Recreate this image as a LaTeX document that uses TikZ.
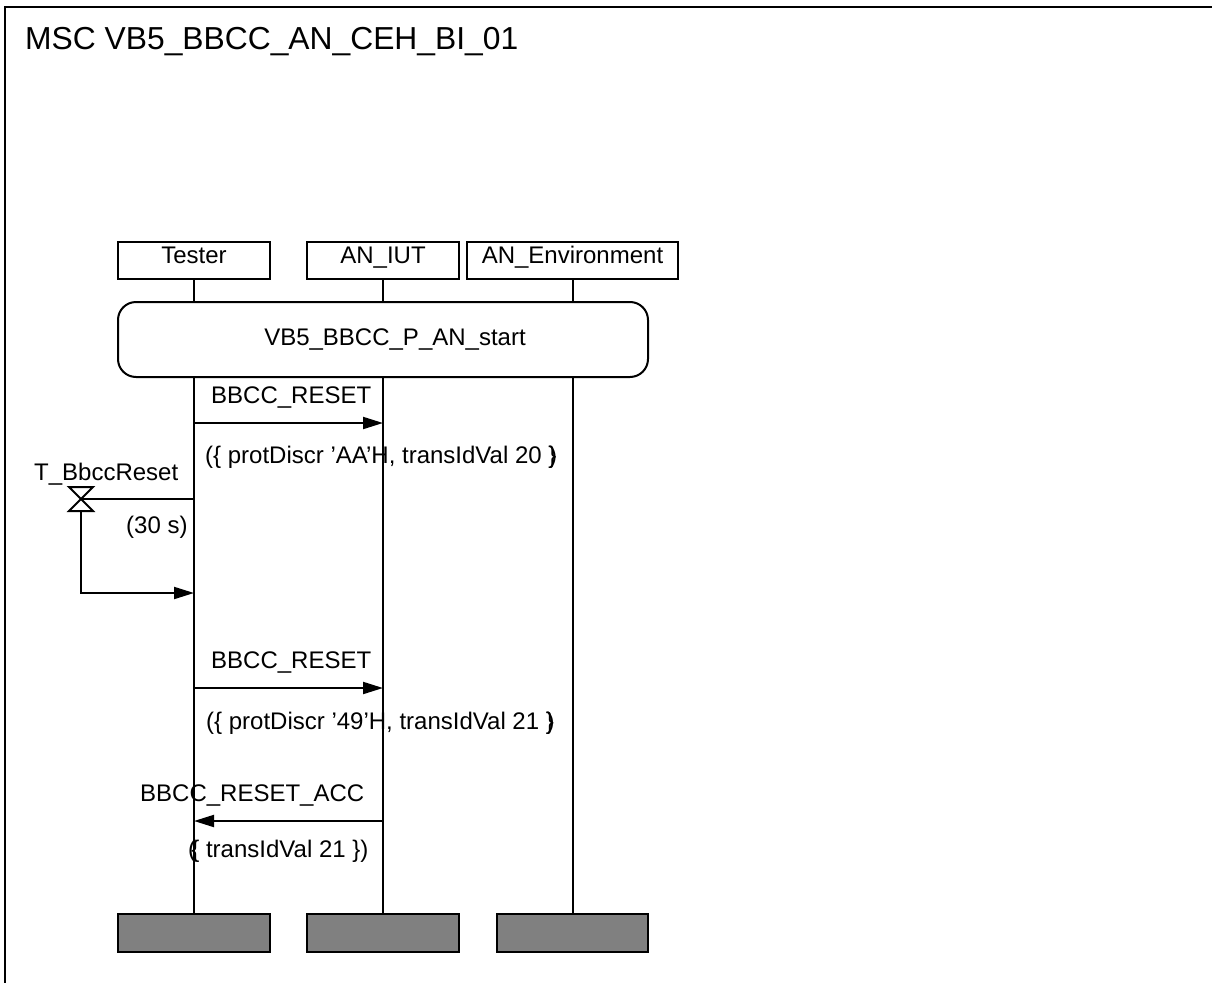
\documentclass[tikz,border=0pt]{standalone}
\usepackage{fontspec}
\setmainfont{Liberation Sans}
\usetikzlibrary{arrows.meta}
\begin{document}
\begin{tikzpicture}[x=1pt,y=-1pt,
  lbl/.style={font=\fontsize{24}{28}\selectfont, inner sep=0pt},
  hdr/.style={draw, line width=2pt, minimum height=37pt, inner sep=0pt,
    text height=12pt, text depth=7pt, font=\fontsize{24}{28}\selectfont},
  actbox/.style={draw, line width=2pt, rounded corners=18pt, minimum width=530pt, minimum height=75pt, inner sep=0pt},
  endbox/.style={draw, line width=2.5pt, fill=black!50, minimum height=38pt, inner sep=0pt},
  life/.style={line width=2pt},
  msg/.style={line width=2pt, -{Triangle[length=20pt,width=12pt]}}]
\useasboundingbox (0,0) rectangle (1212,982);
% frame
\draw[line width=2.5pt] (5,995) -- (5,7) -- (1225,7);
\node[anchor=base west, inner sep=0pt, font=\fontsize{31.8}{36}\selectfont] (title) at (25,50) {MSC VB5\_BBCC\_AN\_CEH\_BI\_01};
% headers
\node[hdr, minimum width=152pt] (tester) at (194,260.5) {Tester};
\node[hdr, minimum width=152pt] (iut) at (383,260.5) {AN\_IUT};
\node[hdr, minimum width=211pt] (env) at (572.5,260.5) {AN\_Environment};
% action
\node[actbox] (act) at (383,339.5) {};
\node[lbl, anchor=base] (actlbl) at (395,345) {VB5\_BBCC\_P\_AN\_start};
% end boxes
\node[endbox, minimum width=152pt] (testerend) at (194,933) {};
\node[endbox, minimum width=152pt] (iutend) at (383,933) {};
\node[endbox, minimum width=151pt] (envend) at (572.5,933) {};
% lifelines
\foreach \h/\e in {tester/testerend, iut/iutend, env/envend}{
  \draw[life] (\h.south) -- (\h.south |- act.north);
  \draw[life] (\h.south |- act.south) -- (\e.north);
}
% message 1
\coordinate (m1a) at (194,423);
\coordinate (m1b) at (383,423);
\draw[msg] (m1a) -- (m1b);
\node[lbl, anchor=base west] (m1lbl) at (211,403) {BBCC\_RESET};
\node[lbl, anchor=base west] (m1par) at (205,463) {(\{ protDiscr ’AA’H, transIdVal 20 \}\kern-0.3em)};
% timer
\coordinate (tmr) at (81,499);
\coordinate (tset) at (194,499);
\coordinate (tmrb) at (81,511);
\coordinate (tout) at (194,593);
\draw[life] (tmr) -- (tset);
\draw[life, line join=miter] (tmr) ++(-12,-12) -- ++(24,0) -- ++(-24,24) -- ++(24,0) -- cycle;
\draw[msg] (tmrb) |- (tout);
\node[lbl, anchor=base west] (tname) at (34,480) {T\_BbccReset};
\node[lbl, anchor=base west] (tdur) at (126,533) {(30 s)};
% message 2
\coordinate (m2a) at (194,688);
\coordinate (m2b) at (383,688);
\draw[msg] (m2a) -- (m2b);
\node[lbl, anchor=base west] (m2lbl) at (211,668) {BBCC\_RESET};
\node[lbl, anchor=base west] (m2par) at (206,729) {(\{ protDiscr ’49’H, transIdVal 21 \}\kern-0.3em)};
% message 3
\coordinate (m3a) at (383,821);
\coordinate (m3b) at (194,821);
\draw[msg] (m3a) -- (m3b);
\node[lbl, anchor=base west] (m3lbl) at (140,801) {BBCC\_RESET\_ACC};
\node[lbl, anchor=base west] (m3par) at (188,857) {(\kern-0.2em\{ transIdVal 21 \})};
\end{tikzpicture}
\end{document}
